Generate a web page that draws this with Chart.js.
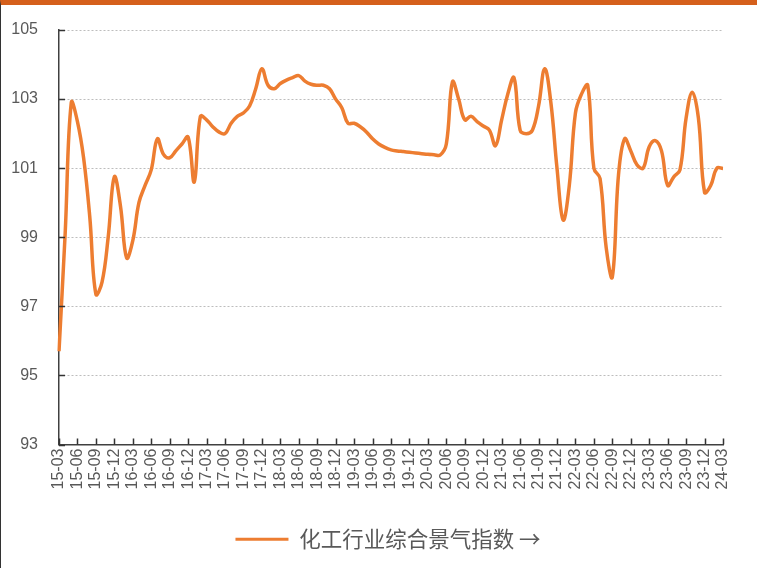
<!DOCTYPE html>
<html>
<head>
<meta charset="utf-8">
<script src="https://cdn.jsdelivr.net/npm/chart.js@4"></script>
<style>
  html, body { margin: 0; padding: 0; background: #fff; }
  #wrap {
    width: 756px;
    height: 563px;
    border-top: 5px solid #d5601c;
    border-left: 1px solid #333;
    position: relative;
  }
</style>
</head>
<body>
<div id="wrap"><canvas id="chart" width="756" height="563"></canvas></div>
<script>
// quarter tick labels shown on the x axis
const quarterLabels = [
  "15-03", "15-06", "15-09", "15-12", "16-03", "16-06", "16-09", "16-12",
  "17-03", "17-06", "17-09", "17-12", "18-03", "18-06", "18-09", "18-12",
  "19-03", "19-06", "19-09", "19-12", "20-03", "20-06", "20-09", "20-12",
  "21-03", "21-06", "21-09", "21-12", "22-03", "22-06", "22-09", "22-12",
  "23-03", "23-06", "23-09", "23-12", "24-03"
];

// monthly index, 2015-03 .. 2024-03
const indexValues = [
  95.7, 99.1, 102.9, 102.35, 101.3, 99.6, 97.35, 97.7, 99.0, 100.75,
  99.9, 98.4, 98.9, 100.0, 100.5, 100.95, 101.85, 101.4, 101.3, 101.5,
  101.7, 101.9, 100.6, 102.5, 102.4, 102.2, 102.05, 102.0, 102.3, 102.5,
  102.6, 102.8, 103.3, 103.88, 103.4, 103.3, 103.45, 103.55, 103.62, 103.68,
  103.52, 103.43, 103.4, 103.4, 103.3, 103.0, 102.75, 102.3, 102.3, 102.2,
  102.05, 101.85, 101.7, 101.6, 101.53, 101.5, 101.48, 101.46, 101.44, 101.42,
  101.4, 101.39, 101.38, 101.7, 103.5, 103.0, 102.4, 102.5, 102.35, 102.22,
  102.1, 101.65, 102.4, 103.15, 103.62, 102.1, 102.0, 102.1, 102.8, 103.88,
  102.9, 101.0, 99.5, 100.5, 102.6, 103.15, 103.4, 101.0, 100.7, 98.7,
  97.85, 100.8, 101.85, 101.5, 101.1, 101.0, 101.62, 101.8, 101.5, 100.5,
  100.75, 100.95, 102.45, 103.2, 102.45, 100.3, 100.5, 101.0, 100.99
];

const seriesName = "化工行业综合景气指数 →";

// every month between the quarter labels
const monthLabels = [];
for (let q = 0; q < quarterLabels.length; q++) {
  const yy = parseInt(quarterLabels[q].slice(0, 2), 10);
  const mm = parseInt(quarterLabels[q].slice(3), 10);
  monthLabels.push(quarterLabels[q]);
  if (q < quarterLabels.length - 1) {
    for (let k = 1; k <= 2; k++) {
      let m = mm + k, y = yy;
      if (m > 12) { m -= 12; y += 1; }
      monthLabels.push(y + "-" + String(m).padStart(2, "0"));
    }
  }
}

// small tick marks drawn inside the plot, like the original
const innerTicks = {
  id: "innerTicks",
  afterLayout(chart) {
    // legend sits centred under the plot area, not the canvas
    const lg = chart.legend;
    if (lg) {
      const shift = (chart.chartArea.left + chart.chartArea.right) / 2 - (lg.left + lg.right) / 2 - 3;
      lg.left += shift;
      lg.right += shift;
    }
  },
  afterDatasetsDraw(chart) {
    const ctx = chart.ctx;
    const xs = chart.scales.x;
    const ys = chart.scales.y;
    ctx.save();
    ctx.strokeStyle = "#333";
    ctx.lineWidth = 1.5;
    ctx.beginPath();
    ys.ticks.forEach((t, i) => {
      const py = Math.round(ys.getPixelForTick(i)) + 0.5;
      ctx.moveTo(xs.left, py);
      ctx.lineTo(xs.left + 6, py);
    });
    monthLabels.forEach((lab, i) => {
      if (i % 3 !== 0) return;
      const px = Math.round(xs.getPixelForValue(i)) + 0.5;
      ctx.moveTo(px, ys.bottom);
      ctx.lineTo(px, ys.bottom - 6);
    });
    ctx.stroke();
    ctx.restore();
  },
};

Chart.defaults.font.family = '"Liberation Sans", Arial, sans-serif';
Chart.defaults.color = "#595959";

const ctx = document.getElementById("chart").getContext("2d");
const myChart = new Chart(ctx, {
  type: "line",
  data: {
    labels: monthLabels,
    datasets: [
      {
        label: seriesName,
        data: indexValues,
        borderColor: "#ed7d31",
        backgroundColor: "#ed7d31",
        borderWidth: 3.5,
        pointRadius: 0,
        tension: 0.4,
        fill: false,
      },
    ],
  },
  options: {
    responsive: false,
    animation: false,
    layout: {
      padding: { top: 25, right: 34, left: 0, bottom: 8 },
    },
    plugins: {
      tooltip: { enabled: false },
      legend: {
        position: "bottom",
        labels: {
          boxWidth: 53,
          boxHeight: 3,
          padding: 10,
          color: "#595959",
          font: { size: 21.5, family: '"Noto Sans CJK SC", sans-serif' },
          generateLabels(chart) {
            const items = Chart.defaults.plugins.legend.labels.generateLabels(chart);
            items.forEach((it) => {
              it.lineWidth = 0;
              it.fillStyle = "#ed7d31";
            });
            return items;
          },
        },
      },
    },
    scales: {
      x: {
        grid: { display: false, drawTicks: false },
        border: { color: "#404040", width: 1.5 },
        ticks: {
          autoSkip: false,
          maxRotation: 90,
          minRotation: 90,
          padding: 4,
          font: { size: 16 },
          color: "#595959",
          callback: function (value, index) {
            return index % 3 === 0 ? monthLabels[index] : "";
          },
        },
        afterFit(scale) {
          scale.height = 74;
        },
      },
      y: {
        min: 93,
        max: 105,
        grid: {
          color: "#bdbdbd",
          lineWidth: 1,
          drawTicks: false,
        },
        border: { color: "#404040", width: 1.5, dash: [2, 2] },
        ticks: {
          stepSize: 2,
          padding: 21,
          font: { size: 16 },
          color: "#595959",
        },
        afterFit(scale) {
          scale.width = 58;
          // the big label gap should not push the plot down
          scale.paddingTop = 0;
          scale.paddingBottom = 0;
        },
      },
    },
  },
  plugins: [innerTicks],
});
</script>
</body>
</html>
